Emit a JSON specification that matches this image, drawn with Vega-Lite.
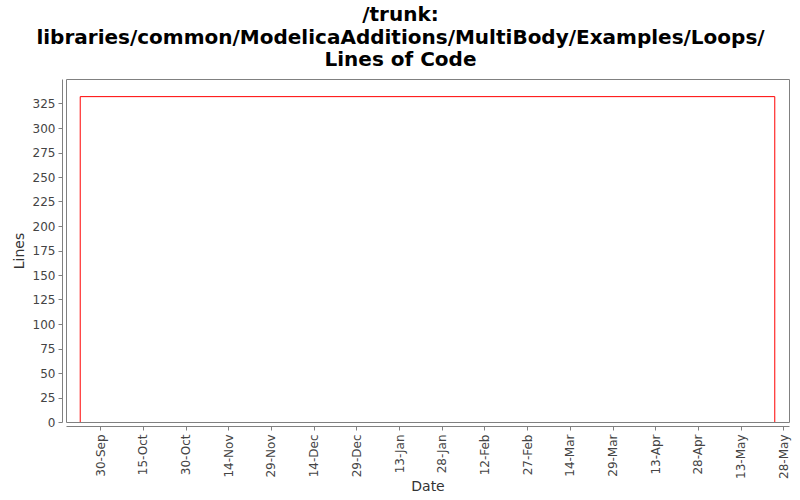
{
  "$schema": "https://vega.github.io/schema/vega-lite/v6.json",
  "autosize": {"type": "none"},
  "width": 723,
  "height": 343,
  "padding": {"left": 66, "top": 79, "right": 11, "bottom": 78},
  "background": "white",
  "title": {
    "text": ["/trunk:", "libraries/common/ModelicaAdditions/MultiBody/Examples/Loops/", "Lines of Code"],
    "font": "DejaVu Sans",
    "fontSize": 20,
    "fontWeight": "bold",
    "color": "#000000",
    "anchor": "middle",
    "dx": -27,
    "lineHeight": 22.5,
    "offset": 9
  },
  "config": {
    "view": {"stroke": "#808080", "strokeWidth": 1},
    "axis": {
      "labelFont": "DejaVu Sans",
      "labelFontSize": 12,
      "labelColor": "#444444",
      "titleFont": "DejaVu Sans",
      "titleFontSize": 14,
      "titleFontWeight": "normal",
      "titleColor": "#333333",
      "domainColor": "#808080",
      "tickColor": "#808080",
      "tickSize": 4,
      "grid": false,
      "offset": 4
    }
  },
  "data": {
    "values": [
      {"i": 1, "date": "2006-09-23", "lines": 0},
      {"i": 2, "date": "2006-09-23", "lines": 332},
      {"i": 3, "date": "2007-05-25", "lines": 332},
      {"i": 4, "date": "2007-05-25", "lines": 0}
    ]
  },
  "mark": {"type": "line", "color": "#ff0000", "strokeWidth": 1, "clip": true},
  "encoding": {
    "order": {"field": "i", "type": "quantitative"},
    "x": {
      "field": "date",
      "type": "temporal",
      "title": "Date",
      "scale": {
        "type": "utc",
        "domain": [
          {"year": 2006, "month": 9, "date": 18, "utc": true},
          {"year": 2007, "month": 5, "date": 30, "utc": true}
        ]
      },
      "axis": {
        "format": "%d-%b",
        "labelAngle": -90,
        "labelPadding": 4,
        "titlePadding": 1,
        "labelOverlap": false,
        "values": [
          {"year": 2006, "month": 9, "date": 30, "utc": true},
          {"year": 2006, "month": 10, "date": 15, "utc": true},
          {"year": 2006, "month": 10, "date": 30, "utc": true},
          {"year": 2006, "month": 11, "date": 14, "utc": true},
          {"year": 2006, "month": 11, "date": 29, "utc": true},
          {"year": 2006, "month": 12, "date": 14, "utc": true},
          {"year": 2006, "month": 12, "date": 29, "utc": true},
          {"year": 2007, "month": 1, "date": 13, "utc": true},
          {"year": 2007, "month": 1, "date": 28, "utc": true},
          {"year": 2007, "month": 2, "date": 12, "utc": true},
          {"year": 2007, "month": 2, "date": 27, "utc": true},
          {"year": 2007, "month": 3, "date": 14, "utc": true},
          {"year": 2007, "month": 3, "date": 29, "utc": true},
          {"year": 2007, "month": 4, "date": 13, "utc": true},
          {"year": 2007, "month": 4, "date": 28, "utc": true},
          {"year": 2007, "month": 5, "date": 13, "utc": true},
          {"year": 2007, "month": 5, "date": 28, "utc": true}
        ]
      }
    },
    "y": {
      "field": "lines",
      "type": "quantitative",
      "title": "Lines",
      "scale": {"domain": [0, 350], "nice": false},
      "axis": {
        "values": [0, 25, 50, 75, 100, 125, 150, 175, 200, 225, 250, 275, 300, 325],
        "labelPadding": 3,
        "titlePadding": 6
      }
    }
  }
}
